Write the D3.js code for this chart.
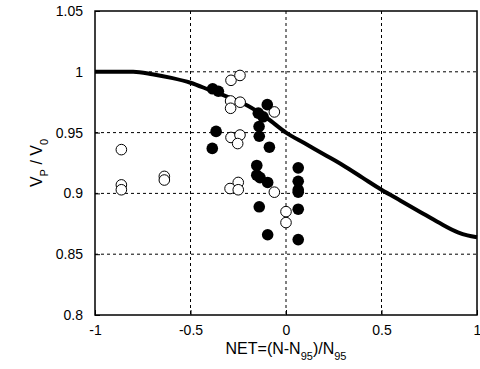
<!DOCTYPE html>
<html>
<head>
<meta charset="utf-8">
<script src="https://cdn.jsdelivr.net/npm/d3@7"></script>
<style>
  body { margin: 0; background: #fff; }
  text { font-family: "Liberation Sans", Arial, sans-serif; }
</style>
</head>
<body>
<div id="chart"></div>
<script>
// data
var xTicks = [-1, -0.5, 0, 0.5, 1];
var yTicks = [0.8, 0.85, 0.9, 0.95, 1, 1.05];

var curveX = [-1, -0.9, -0.8, -0.7, -0.6, -0.5, -0.4, -0.3, -0.2, -0.1, 0, 0.1, 0.2, 0.3, 0.4, 0.5, 0.6, 0.7, 0.8, 0.9, 0.95, 1];
var curveY = [1.0, 1.0, 1.0, 0.998, 0.995, 0.991, 0.985, 0.979, 0.972, 0.962, 0.950, 0.941, 0.932, 0.923, 0.913, 0.903, 0.894, 0.885, 0.876, 0.868, 0.8655, 0.864];

var openX = [-0.862, -0.862, -0.862, -0.637, -0.637, -0.288, -0.241, -0.29, -0.24, -0.29, -0.061, -0.288, -0.241, -0.253, -0.25, -0.293, -0.25, -0.061, 0.0, 0.0];
var openY = [0.936, 0.907, 0.903, 0.914, 0.911, 0.993, 0.997, 0.976, 0.975, 0.970, 0.967, 0.946, 0.948, 0.941, 0.909, 0.904, 0.903, 0.901, 0.885, 0.876];

var fillX = [-0.384, -0.354, -0.098, -0.145, -0.12, -0.141, -0.140, -0.366, -0.386, -0.087, -0.153, -0.153, -0.136, -0.096, -0.140, -0.096, 0.064, 0.064, 0.064, 0.064, 0.064, 0.064];
var fillY = [0.986, 0.984, 0.973, 0.966, 0.963, 0.955, 0.947, 0.951, 0.937, 0.938, 0.923, 0.915, 0.913, 0.909, 0.889, 0.866, 0.921, 0.910, 0.903, 0.901, 0.887, 0.862];

var margin = {top: 11, right: 3, bottom: 54, left: 95},
    width = 480 - margin.left - margin.right,
    height = 369 - margin.top - margin.bottom;

var svg = d3.select("#chart")
  .append("svg")
    .attr("width", 480)
    .attr("height", 369)
  .append("g")
    .attr("transform", "translate(" + margin.left + "," + margin.top + ")");

var x = d3.scaleLinear().domain([-1, 1]).range([0, width]);
var y = d3.scaleLinear().domain([0.8, 1.05]).range([height, 0]);

// dashed grid
svg.selectAll(".vgrid")
  .data(xTicks.slice(1, -1))
  .enter().append("line")
    .attr("x1", function(d) { return x(d); })
    .attr("x2", function(d) { return x(d); })
    .attr("y1", 0).attr("y2", height)
    .attr("stroke", "#000").attr("stroke-width", 1)
    .attr("stroke-dasharray", "3,3");

svg.selectAll(".hgrid")
  .data(yTicks.slice(1, -1))
  .enter().append("line")
    .attr("y1", function(d) { return y(d); })
    .attr("y2", function(d) { return y(d); })
    .attr("x1", 0).attr("x2", width)
    .attr("stroke", "#000").attr("stroke-width", 1)
    .attr("stroke-dasharray", "3,3");

// axes, ticks inward, plain hyphen for minus
var xAxis = svg.append("g")
  .attr("transform", "translate(0," + height + ")")
  .call(d3.axisBottom(x).tickValues(xTicks).tickSize(-5).tickPadding(10)
        .tickFormat(function(d) { return String(d); }));
var yAxis = svg.append("g")
  .call(d3.axisLeft(y).tickValues(yTicks).tickSize(-5).tickPadding(12)
        .tickFormat(function(d) { return String(d); }));

[xAxis, yAxis].forEach(function(a) {
  a.select(".domain").remove();
  a.selectAll("line").attr("stroke", "#000");
  a.selectAll("text").style("font-size", "14px").attr("fill", "#000")
    .style("font-family", "'Liberation Sans', Arial, sans-serif");
});

// curve
var curve = curveX.map(function(d, i) { return [d, curveY[i]]; });
var line = d3.line()
  .x(function(d) { return x(d[0]); })
  .y(function(d) { return y(d[1]); })
  .curve(d3.curveMonotoneX);

svg.append("path")
  .datum(curve)
  .attr("d", line)
  .attr("fill", "none")
  .attr("stroke", "#000")
  .attr("stroke-width", 4);

// points
svg.selectAll(".open")
  .data(openX.map(function(d, i) { return [d, openY[i]]; }))
  .enter().append("circle")
    .attr("cx", function(d) { return x(d[0]); })
    .attr("cy", function(d) { return y(d[1]); })
    .attr("r", 5.3)
    .attr("fill", "#fff")
    .attr("stroke", "#000")
    .attr("stroke-width", 1);

svg.selectAll(".filled")
  .data(fillX.map(function(d, i) { return [d, fillY[i]]; }))
  .enter().append("circle")
    .attr("cx", function(d) { return x(d[0]); })
    .attr("cy", function(d) { return y(d[1]); })
    .attr("r", 5.8)
    .attr("fill", "#000");

// frame
svg.append("rect")
  .attr("width", width).attr("height", height)
  .attr("fill", "none").attr("stroke", "#000").attr("stroke-width", 1.5);

// labels
var xl = svg.append("text")
  .attr("x", width / 2)
  .attr("y", height + 39)
  .attr("text-anchor", "middle")
  .style("font-size", "16px");
xl.append("tspan").text("NET=(N-N");
xl.append("tspan").attr("dy", 6).style("font-size", "11px").text("95");
xl.append("tspan").attr("dy", -6).text(")/N");
xl.append("tspan").attr("dy", 6).style("font-size", "11px").text("95");

var yl = svg.append("text")
  .attr("transform", "translate(-53," + (height / 2) + ") rotate(-90)")
  .attr("text-anchor", "middle")
  .style("font-size", "16px");
yl.append("tspan").text("V");
yl.append("tspan").attr("dy", 6).style("font-size", "11px").text("P");
yl.append("tspan").attr("dy", -6).text(" / V");
yl.append("tspan").attr("dy", 6).style("font-size", "11px").text("0");
</script>
</body>
</html>
